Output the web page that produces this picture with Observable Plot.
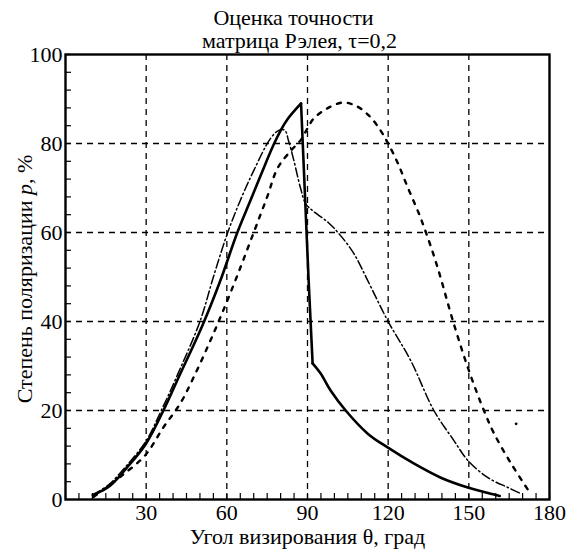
<!DOCTYPE html>
<html><head><meta charset="utf-8">
<script src="https://cdn.jsdelivr.net/npm/d3@7"></script>
<script src="https://cdn.jsdelivr.net/npm/@observablehq/plot@0.6"></script>
<style>
body{margin:0;background:#fff}
</style>
</head><body><div id="chart"></div>
<script>
// Solid curve: rising branch, steep drop, decaying branch
const solidRiseX = [10.2,16.6,22.9,30,36.4,41.5,51.2,57.6,63.9,68.5,72.5,77.3,80,82.5,87.6];
const solidRiseY = [1.0,3.1,7.2,12.6,20,26.7,39.5,49.2,60,66.8,72.7,79.6,82.9,85.4,89];
const solidDropX = [87.6,90.4,91.9];
const solidDropY = [89,49.4,30.6];
const solidFallX = [91.9,94.9,98.6,104.2,112.4,119.8,129.5,139.6,149.6,159.4,161.5];
const solidFallY = [30.6,28.3,24.5,20,14.8,11.7,8.1,4.9,2.7,1.1,0.8];
// Dashed curve
const dashX = [10.5,15,21,29.6,36.4,42.7,47.6,53,58,64,70,75,79,84,87.4,90,92.3,97.4,103.1,107.9,112.8,117.2,119.8,123.5,127.3,131.4,134.7,138.4,144.4,150,155.6,159.4,165.7,172.4];
const dashY = [0.6,2.6,5.4,9.9,16.2,21.6,27.4,34.5,41.5,50.5,60,68,74.6,78.5,80.7,83.4,85.6,87.9,89.2,88.5,86.3,82.9,80.2,75.7,70.1,64.3,58.9,52.1,39.5,29,20,14.8,8.1,1.8];
const strayX = [167.6];
const strayY = [17];
// Dash-dot curve
const ddX = [10,16,23,30,36,42,50,55,60.2,65,70,76.2,79.2,81.5,83,84.8,87.4,89.3,91.9,97.8,102.3,107.2,112.4,119.8,128.4,137,144.4,149.6,157.1,164.5,169.4];
const ddY = [1,3.3,7.8,13.2,20.5,28.5,40,50,59.8,67.2,73.9,81.1,82.9,83,80.5,76.5,70,66.5,64.9,62.2,59.3,55.3,49.2,40.2,31.2,20,13.3,8.8,4.9,2.7,1.3];

const xTickLabels = [30,60,90,120,150,180];
const yTickLabels = [0,20,40,60,80,100];
const xGrid = [30,60,90,120,150];
const yGrid = [20,40,60,80];
const titleLines = ["Оценка точности", "матрица Рэлея, τ=0,2"];
const xLabel = "Угол визирования θ, град";
const yLabel = "Степень поляризации p, %";

const FONT = "'Liberation Serif', 'DejaVu Serif', 'Times New Roman', serif";

const toRows = (X, Y) => X.map((x, i) => ({x, y: Y[i]}));
const solidRise = toRows(solidRiseX, solidRiseY);
const solidDrop = toRows(solidDropX, solidDropY);
const solidFall = toRows(solidFallX, solidFallY);
const dashed = toRows(dashX, dashY);
const stray = toRows(strayX, strayY);
const dashdot = toRows(ddX, ddY);

const chart = Plot.plot({
  width: 566, height: 551,
  marginLeft: 65, marginRight: 17, marginTop: 54, marginBottom: 52,
  style: {fontSize: "22px", color: "black", background: "white"},
  x: {domain: [0, 180]},
  y: {domain: [0, 100]},
  marks: [
    Plot.gridX(xGrid, {stroke: "black", strokeOpacity: 1, strokeWidth: 1.3, strokeDasharray: "6,5"}),
    Plot.gridY(yGrid, {stroke: "black", strokeOpacity: 1, strokeWidth: 1.3, strokeDasharray: "6,5"}),
    Plot.line(dashdot, {x: "x", y: "y", stroke: "black", strokeWidth: 1.5, strokeDasharray: "9,3,1.5,3", curve: "catmull-rom"}),
    Plot.line(dashed, {x: "x", y: "y", stroke: "black", strokeWidth: 2.4, strokeDasharray: "4,7", curve: "catmull-rom"}),
    Plot.dot(stray, {x: "x", y: "y", r: 1.4, fill: "black"}),
    Plot.line(solidRise, {x: "x", y: "y", stroke: "black", strokeWidth: 2.6, curve: "catmull-rom"}),
    Plot.line(solidDrop, {x: "x", y: "y", stroke: "black", strokeWidth: 2.6}),
    Plot.line(solidFall, {x: "x", y: "y", stroke: "black", strokeWidth: 2.6, curve: "catmull-rom"}),
    Plot.frame({stroke: "black", strokeWidth: 2.4}),
    Plot.axisX({ticks: d3.range(0, 181, 5), tickSize: -6, tickFormat: () => "", label: null, strokeWidth: 1.2}),
    Plot.axisY({ticks: d3.range(0, 101, 4), tickSize: -6, tickFormat: () => "", label: null, strokeWidth: 1.2}),
    Plot.axisX(xTickLabels, {tickSize: 0, tickPadding: 5, label: null, fontSize: 22, fontFamily: FONT}),
    Plot.axisY(yTickLabels, {tickSize: 0, tickPadding: 3, label: null, fontSize: 22, fontFamily: FONT}),
    Plot.text([xLabel], {frameAnchor: "bottom", dy: 37, dx: 0, fontSize: 22, fontFamily: FONT, lineAnchor: "middle", textAnchor: "middle"}),
    Plot.text([yLabel], {frameAnchor: "left", dx: -41, dy: 2, rotate: -90, fontSize: 22, fontFamily: FONT, lineAnchor: "middle", textAnchor: "middle", fill: "black"}),
    Plot.text([titleLines[0]], {frameAnchor: "top", dx: -14, dy: -30, fontSize: 22, fontFamily: FONT, lineAnchor: "bottom", textAnchor: "middle"}),
    Plot.text([titleLines[1]], {frameAnchor: "top", dx: -8, dy: -7, fontSize: 22, fontFamily: FONT, lineAnchor: "bottom", textAnchor: "middle"})
  ]
});
document.getElementById("chart").appendChild(chart);

// italic "p" in the y label
d3.select(chart).selectAll("text").each(function() {
  const t = d3.select(this);
  if (t.text() === yLabel) {
    t.text(null);
    t.append("tspan").text("Степень поляризации ");
    t.append("tspan").attr("font-style", "italic").text("p");
    t.append("tspan").text(", %");
  }
});
</script>
</body></html>
